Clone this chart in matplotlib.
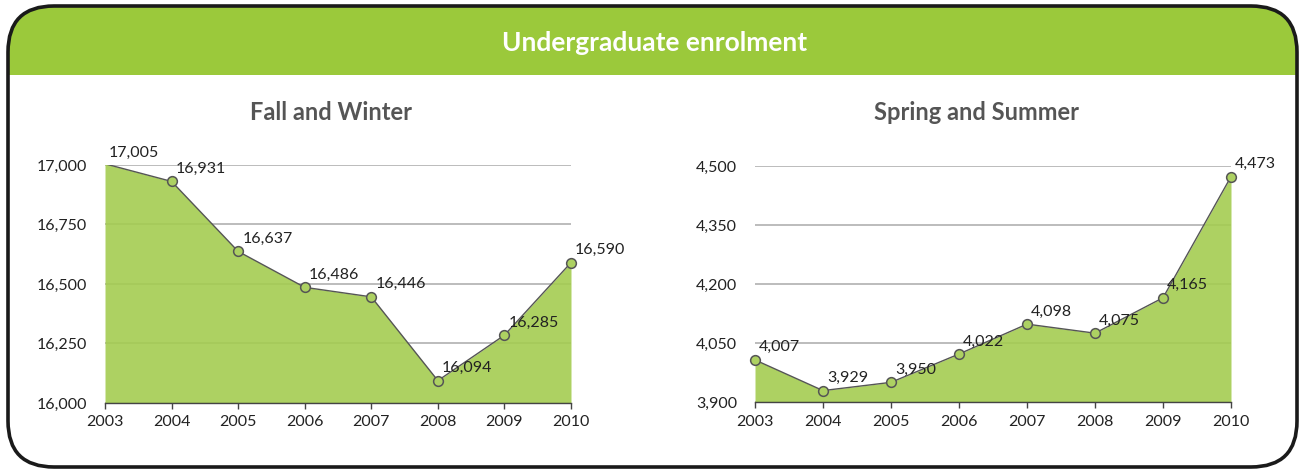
import matplotlib
matplotlib.use("Agg")
import matplotlib.pyplot as plt
from matplotlib.patches import FancyBboxPatch, Rectangle
import matplotlib.ticker as mticker

years = [2003, 2004, 2005, 2006, 2007, 2008, 2009, 2010]
fall_winter = [17005, 16931, 16637, 16486, 16446, 16094, 16285, 16590]
spring_summer = [4007, 3929, 3950, 4022, 4098, 4075, 4165, 4473]
fall_ticks = [16000, 16250, 16500, 16750, 17000]
spring_ticks = [3900, 4050, 4200, 4350, 4500]

main_title = "Undergraduate enrolment"
left_title = "Fall and Winter"
right_title = "Spring and Summer"

W, H = 1299, 470
plt.rcParams['font.family'] = ['Lato', 'DejaVu Sans']

fig = plt.figure(figsize=(W / 100, H / 100), dpi=100)

# background frame axes in pixel units
bg = fig.add_axes([0, 0, 1, 1])
bg.set_xlim(0, W)
bg.set_ylim(H, 0)
bg.axis('off')

R = 46
frame = FancyBboxPatch((8 + R, 6 + R), (1297 - 8) - 2 * R, (467 - 6) - 2 * R,
                       boxstyle=f"round,pad={R}", facecolor='white',
                       edgecolor='none', zorder=1)
bg.add_patch(frame)
header = Rectangle((0, 0), W, 75, facecolor='#9BC93B', edgecolor='none', zorder=2)
header.set_clip_path(frame)
bg.add_patch(header)
frame2 = FancyBboxPatch((8 + R, 6 + R), (1297 - 8) - 2 * R, (467 - 6) - 2 * R,
                        boxstyle=f"round,pad={R}", facecolor='none',
                        edgecolor='#1a1a1a', linewidth=2.6, zorder=3)
bg.add_patch(frame2)
bg.text(655, 43, main_title, color='white', fontsize=19, fontweight='bold',
        ha='center', va='center', zorder=4)

fill_color = '#A4CC51'
marker_face = '#ADD162'
line_color = '#555555'
text_color = '#222222'
label_size = 11.5


def make_panel(rect, values, ticks, title, title_x):
    ax = fig.add_axes(rect)
    ax.set_xlim(years[0], years[-1])
    ax.set_ylim(ticks[0], ticks[-1])
    ax.set_yticks(ticks)
    ax.set_xticks(years)
    ax.yaxis.set_major_formatter(mticker.FuncFormatter(lambda v, p: f"{int(v):,}"))
    ax.grid(axis='y', color='#AAAAAA', linewidth=1.1, zorder=1)
    ax.set_axisbelow(True)
    ax.fill_between(years, ticks[0], values, color=fill_color, alpha=0.9,
                    linewidth=0, zorder=2)
    ax.plot(years, values, color=line_color, linewidth=1.0, zorder=3)
    in_x = [x for x, v in zip(years, values) if ticks[0] <= v <= ticks[-1]]
    in_v = [v for v in values if ticks[0] <= v <= ticks[-1]]
    ax.plot(in_x, in_v, linestyle='none', marker='o', markersize=7,
            markerfacecolor=marker_face, markeredgecolor=line_color,
            markeredgewidth=1.1, zorder=4, clip_on=False)
    for x, v in zip(years, values):
        ax.annotate(f"{v:,}", (x, min(v, ticks[-1])), xytext=(3, 4),
                    textcoords='offset points', ha='left', va='bottom',
                    fontsize=label_size, color=text_color, annotation_clip=False,
                    zorder=5)
    for s in ['left', 'right', 'top']:
        ax.spines[s].set_visible(False)
    ax.spines['bottom'].set_color('#444444')
    ax.spines['bottom'].set_linewidth(1.0)
    ax.spines['bottom'].set_zorder(6)
    ax.tick_params(axis='y', length=0, pad=13, labelsize=label_size,
                   labelcolor=text_color)
    ax.tick_params(axis='x', length=4, width=1, color='#444444', pad=5,
                   labelsize=label_size, labelcolor=text_color)
    fig.text(title_x / W, 1 - 112 / H, title, ha='center', va='center',
             fontsize=17, fontweight='bold', color='#555555')
    return ax


make_panel([105 / W, (H - 403) / H, 466 / W, 238 / H], fall_winter,
           fall_ticks, left_title, 331)
make_panel([755 / W, (H - 402) / H, 476 / W, 236 / H], spring_summer,
           spring_ticks, right_title, 977)

fig.savefig('out.png', dpi=100)
